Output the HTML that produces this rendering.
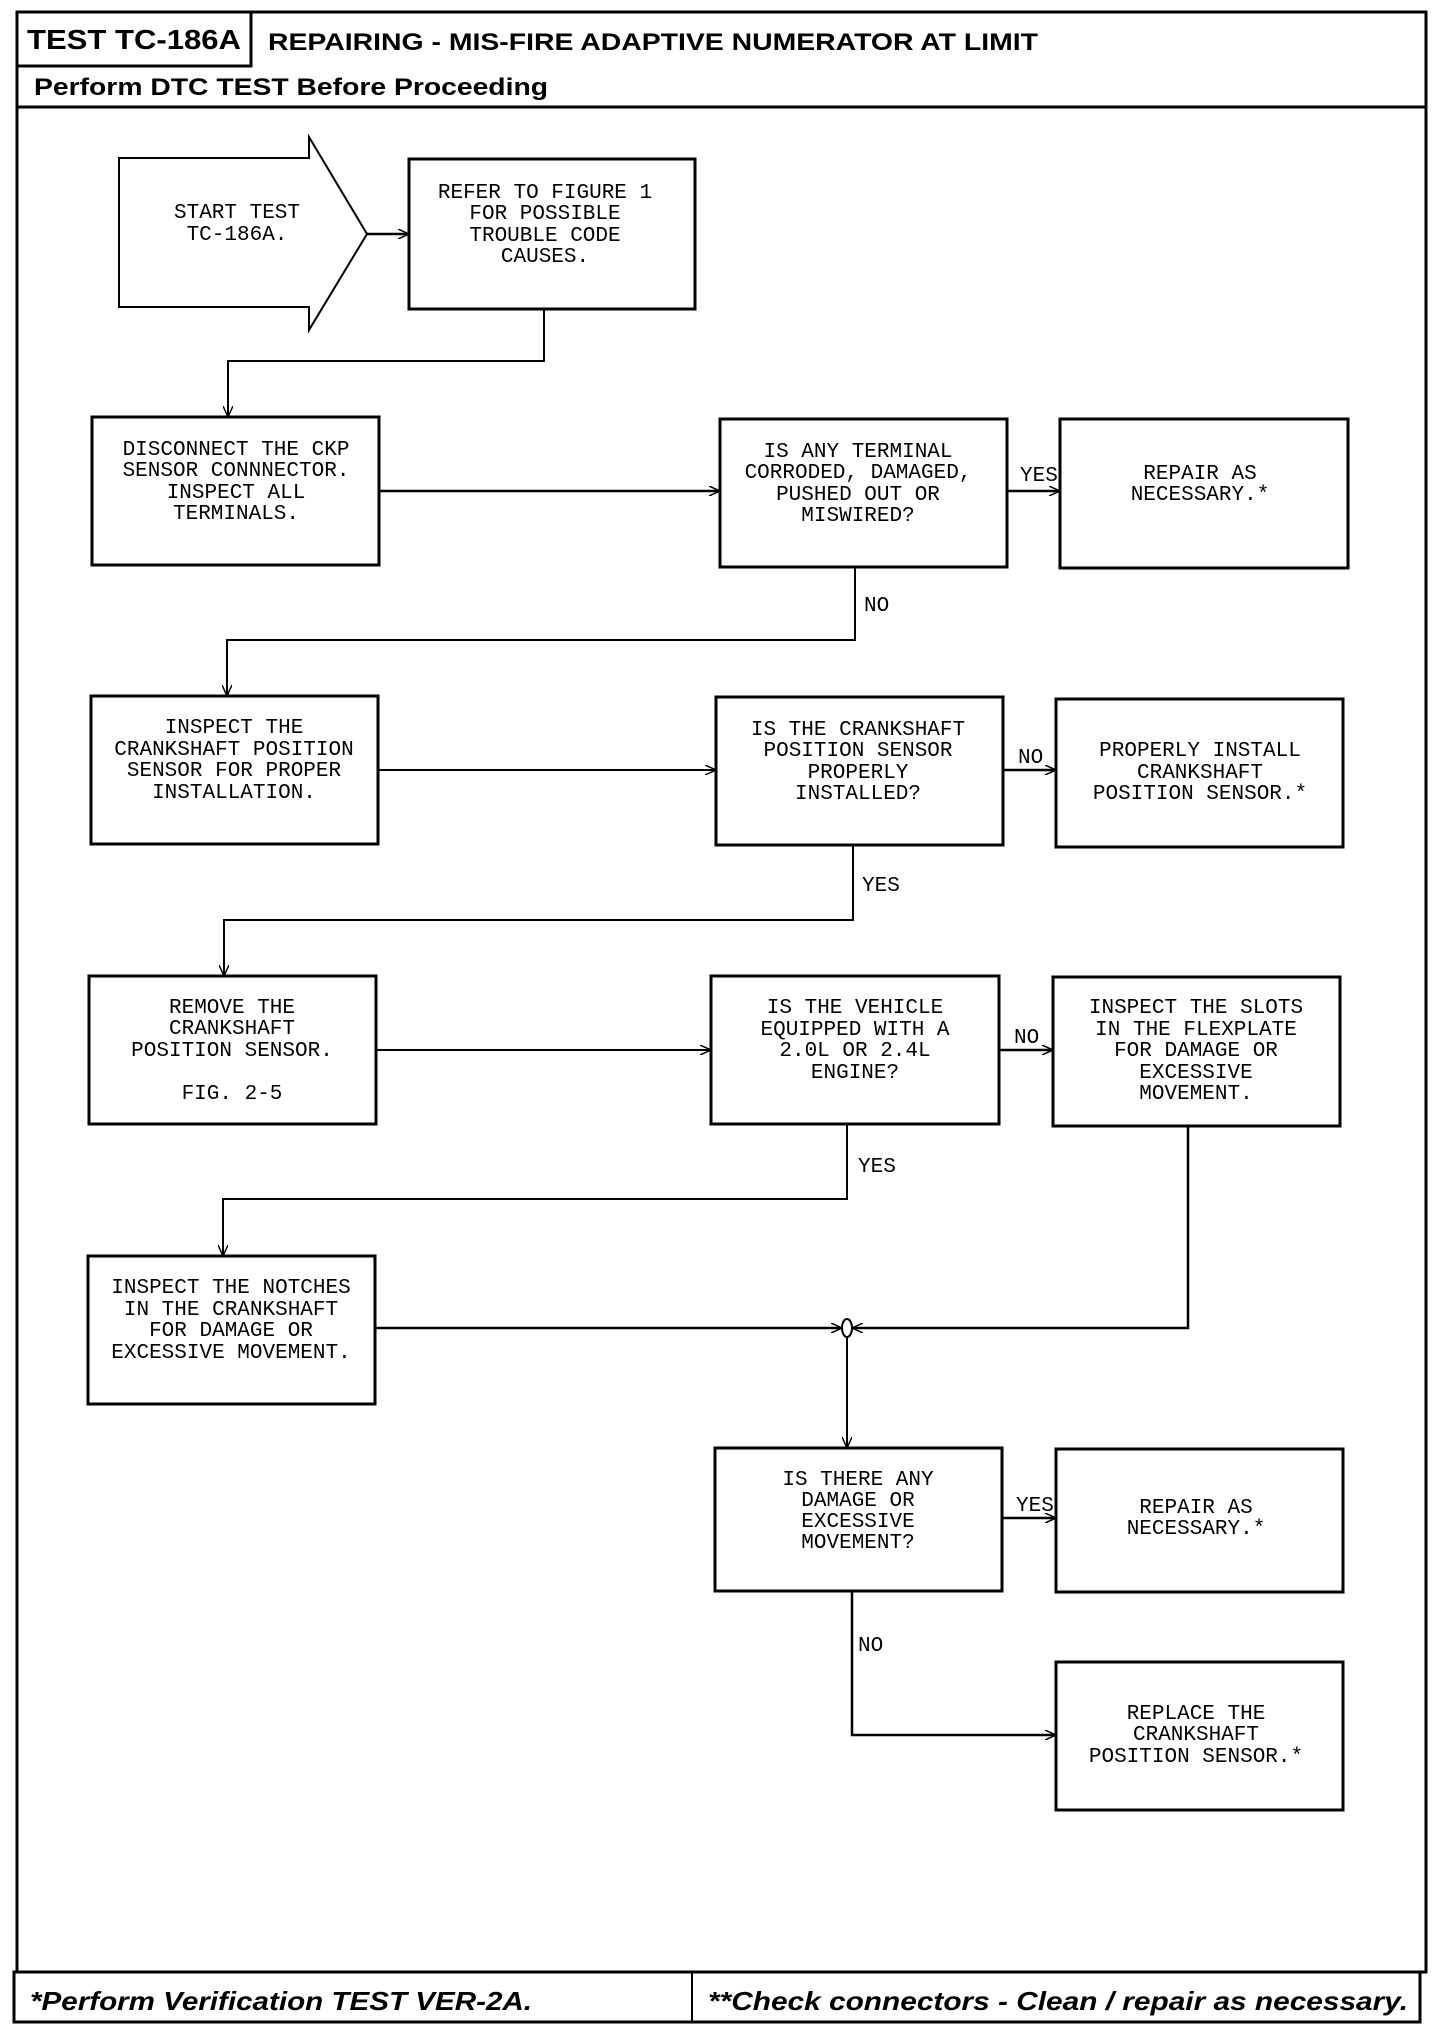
<!DOCTYPE html>
<html><head><meta charset="utf-8"><style>
html,body{margin:0;padding:0;background:#fff;}
svg{display:block}
.t{font-family:"Liberation Mono",monospace;font-size:21px;fill:#000;text-anchor:middle;}
.l{font-family:"Liberation Mono",monospace;font-size:21px;fill:#000;}
.h{font-family:"Liberation Sans",sans-serif;font-weight:bold;fill:#000;}
</style></head><body>
<svg width="1440" height="2034" viewBox="0 0 1440 2034" xmlns="http://www.w3.org/2000/svg">
<defs><marker id="a" markerWidth="12" markerHeight="10" refX="11" refY="5" orient="auto" markerUnits="userSpaceOnUse"><path d="M0,0 L11,5 L0,10" fill="none" stroke="#000" stroke-width="1.5"/></marker></defs>
<g fill="none" stroke="#000" stroke-width="3">
<!-- frame -->
<rect x="17" y="12" width="1409" height="1960"/>
<line x1="17" y1="107" x2="1426" y2="107"/>
<rect x="17" y="12" width="234" height="54"/>
<rect x="14" y="1972" width="1406" height="50"/>
<line x1="692" y1="1972" x2="692" y2="2022" stroke-width="2"/>
<!-- start arrow -->
<path d="M119,158 L309,158 L309,137 L367,234 L309,330 L309,307 L119,307 Z" stroke-width="2"/>
<rect x="409" y="159" width="286" height="150"/>
<!-- row1 -->
<rect x="92" y="417" width="287" height="148"/>
<rect x="720" y="419" width="287" height="148"/>
<rect x="1060" y="419" width="288" height="149"/>
<!-- row2 -->
<rect x="91" y="696" width="287" height="148"/>
<rect x="716" y="697" width="287" height="148"/>
<rect x="1056" y="699" width="287" height="148"/>
<!-- row3 -->
<rect x="89" y="976" width="287" height="148"/>
<rect x="711" y="976" width="288" height="148"/>
<rect x="1053" y="977" width="287" height="149"/>
<!-- row4 -->
<rect x="88" y="1256" width="287" height="148"/>
<!-- row5 -->
<rect x="715" y="1448" width="287" height="143"/>
<rect x="1056" y="1449" width="287" height="143"/>
<!-- row6 -->
<rect x="1056" y="1662" width="287" height="148"/>
</g>
<g fill="none" stroke="#000" stroke-width="2.5">
<path d="M367,234 L409,234" marker-end="url(#a)"/>
<path d="M544,309 L544,361 L228,361 L228,417" stroke-width="2" marker-end="url(#a)"/>
<path d="M379,491 L720,491" marker-end="url(#a)"/>
<path d="M1007,491 L1060,491" marker-end="url(#a)"/>
<path d="M855,567 L855,640 L227,640 L227,696" stroke-width="2" marker-end="url(#a)"/>
<path d="M378,770 L716,770" stroke-width="2" marker-end="url(#a)"/>
<path d="M1003,770 L1056,770" marker-end="url(#a)"/>
<path d="M853,845 L853,920 L224,920 L224,976" stroke-width="2" marker-end="url(#a)"/>
<path d="M376,1050 L711,1050" stroke-width="2" marker-end="url(#a)"/>
<path d="M999,1050 L1053,1050" marker-end="url(#a)"/>
<path d="M847,1124 L847,1199 L223,1199 L223,1256" stroke-width="2" marker-end="url(#a)"/>
<path d="M375,1328 L842,1328" marker-end="url(#a)"/>
<path d="M1188,1126 L1188,1328 L852,1328" marker-end="url(#a)"/>
<ellipse cx="847" cy="1328" rx="5" ry="9" stroke-width="2"/>
<path d="M847,1337 L847,1448" stroke-width="2" marker-end="url(#a)"/>
<path d="M1002,1518 L1056,1518" marker-end="url(#a)"/>
<path d="M852,1591 L852,1735 L1056,1735" marker-end="url(#a)"/>
</g>
<!-- header text -->
<text class="h" x="27" y="49" font-size="28" textLength="214" lengthAdjust="spacingAndGlyphs">TEST TC-186A</text>
<text class="h" x="268" y="50" font-size="24" textLength="770" lengthAdjust="spacingAndGlyphs">REPAIRING - MIS-FIRE ADAPTIVE NUMERATOR AT LIMIT</text>
<text class="h" x="34" y="95" font-size="24" textLength="514" lengthAdjust="spacingAndGlyphs">Perform DTC TEST Before Proceeding</text>
<text class="h" x="30" y="2010" font-size="26" font-style="italic" textLength="502" lengthAdjust="spacingAndGlyphs">*Perform Verification TEST VER-2A.</text>
<text class="h" x="708" y="2010" font-size="26" font-style="italic" textLength="700" lengthAdjust="spacingAndGlyphs">**Check connectors - Clean / repair as necessary.</text>
<!-- node text -->
<text class="t" x="237" y="218">START TEST</text>
<text class="t" x="237" y="240">TC-186A.</text>
<g class="t">
<text x="545" y="198">REFER TO FIGURE 1</text><text x="545" y="219">FOR POSSIBLE</text><text x="545" y="241">TROUBLE CODE</text><text x="545" y="262">CAUSES.</text>
<text x="236" y="455">DISCONNECT THE CKP</text><text x="236" y="476">SENSOR CONNNECTOR.</text><text x="236" y="498">INSPECT ALL</text><text x="236" y="519">TERMINALS.</text>
<text x="858" y="457">IS ANY TERMINAL</text><text x="858" y="478">CORRODED, DAMAGED,</text><text x="858" y="500">PUSHED OUT OR</text><text x="858" y="521">MISWIRED?</text>
<text x="1200" y="479">REPAIR AS</text><text x="1200" y="500">NECESSARY.*</text>
<text x="234" y="733">INSPECT THE</text><text x="234" y="755">CRANKSHAFT POSITION</text><text x="234" y="776">SENSOR FOR PROPER</text><text x="234" y="798">INSTALLATION.</text>
<text x="858" y="735">IS THE CRANKSHAFT</text><text x="858" y="756">POSITION SENSOR</text><text x="858" y="778">PROPERLY</text><text x="858" y="799">INSTALLED?</text>
<text x="1200" y="756">PROPERLY INSTALL</text><text x="1200" y="778">CRANKSHAFT</text><text x="1200" y="799">POSITION SENSOR.*</text>
<text x="232" y="1013">REMOVE THE</text><text x="232" y="1034">CRANKSHAFT</text><text x="232" y="1056">POSITION SENSOR.</text><text x="232" y="1099">FIG. 2-5</text>
<text x="855" y="1013">IS THE VEHICLE</text><text x="855" y="1035">EQUIPPED WITH A</text><text x="855" y="1056">2.0L OR 2.4L</text><text x="855" y="1078">ENGINE?</text>
<text x="1196" y="1013">INSPECT THE SLOTS</text><text x="1196" y="1035">IN THE FLEXPLATE</text><text x="1196" y="1056">FOR DAMAGE OR</text><text x="1196" y="1078">EXCESSIVE</text><text x="1196" y="1099">MOVEMENT.</text>
<text x="231" y="1293">INSPECT THE NOTCHES</text><text x="231" y="1315">IN THE CRANKSHAFT</text><text x="231" y="1336">FOR DAMAGE OR</text><text x="231" y="1358">EXCESSIVE MOVEMENT.</text>
<text x="858" y="1485">IS THERE ANY</text><text x="858" y="1506">DAMAGE OR</text><text x="858" y="1527">EXCESSIVE</text><text x="858" y="1548">MOVEMENT?</text>
<text x="1196" y="1513">REPAIR AS</text><text x="1196" y="1534">NECESSARY.*</text>
<text x="1196" y="1719">REPLACE THE</text><text x="1196" y="1740">CRANKSHAFT</text><text x="1196" y="1762">POSITION SENSOR.*</text>
</g>
<!-- labels -->
<g class="l">
<text x="1020" y="481">YES</text>
<text x="864" y="611">NO</text>
<text x="1018" y="763">NO</text>
<text x="862" y="891">YES</text>
<text x="1014" y="1043">NO</text>
<text x="858" y="1172">YES</text>
<text x="1016" y="1511">YES</text>
<text x="858" y="1651">NO</text>
</g>
</svg>
</body></html>
